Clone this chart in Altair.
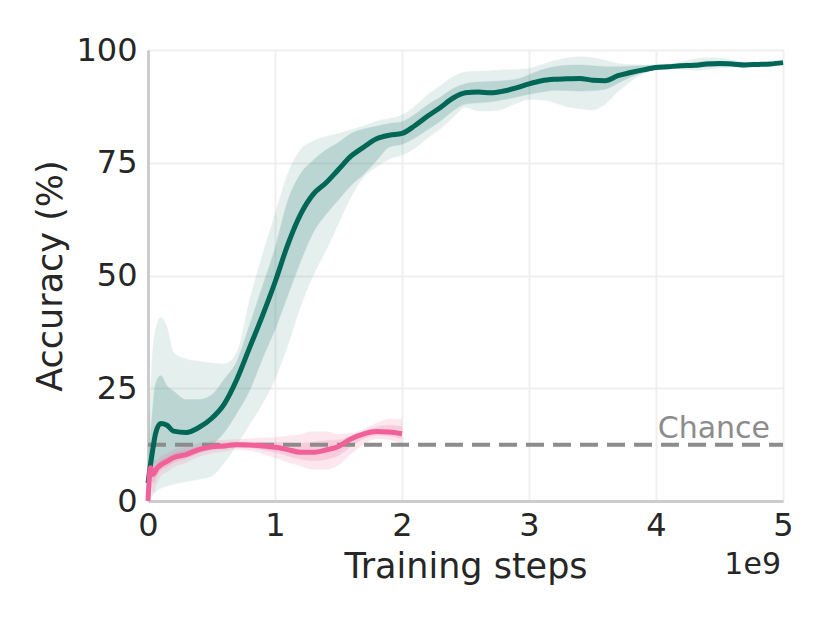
import altair as alt
import pandas as pd

# ---------------- data (x in units of 1e9 training steps, y in %) ----------------
green_x = [0, 0.03, 0.06, 0.1, 0.15, 0.2, 0.3, 0.4, 0.5, 0.6, 0.7, 0.8, 0.9, 1.0,
           1.1, 1.2, 1.3, 1.4, 1.5, 1.6, 1.7, 1.8, 1.9, 2.0, 2.1, 2.2, 2.3, 2.4, 2.5,
           2.6, 2.7, 2.8, 2.9, 3.0, 3.1, 3.2, 3.3, 3.4, 3.5, 3.6, 3.7, 3.8, 3.9, 4.0,
           4.1, 4.2, 4.3, 4.4, 4.5, 4.6, 4.7, 4.8, 4.9, 5.0]
green_mean = [4, 10, 15, 17.2, 16.8, 15.5, 15.2, 16.3, 18.3, 21.5, 27, 34, 41, 48.5,
              56.8, 63.5, 68, 70.5, 73.5, 76.5, 78.5, 80.3, 81.1, 81.5, 83.2, 85.3, 87.2, 89.3, 90.5,
              90.7, 90.5, 90.9, 91.6, 92.5, 93.2, 93.5, 93.6, 93.7, 93.3, 93.2, 94.3, 95.0, 95.6, 96.1,
              96.3, 96.5, 96.6, 96.9, 97.0, 96.9, 96.7, 96.8, 96.9, 97.2]
green_in_hi = [6, 18, 26, 27.8, 25.5, 24.4, 22.5, 22.5, 23.5, 27, 31, 39, 47.5, 56,
               66.5, 72.5, 75.5, 77.8, 79.5, 81.5, 82.5, 83.1, 83.7, 84.1, 85.7, 87.8, 89.5, 91.4, 92.5,
               92.9, 93, 93.2, 93.5, 94.5, 95.6, 96.3, 96.6, 96.7, 96.5, 96.3, 96.3, 96.4, 96.5, 96.7,
               96.8, 97.0, 97.2, 97.5, 97.5, 97.3, 97.0, 97.1, 97.2, 97.4]
green_in_lo = [2, 5, 7, 7.5, 8.5, 9.5, 10.8, 11.5, 12.5, 15.2, 19.5, 24.5, 31.5, 38,
               45.5, 53, 59.5, 63.5, 66.8, 70, 72.5, 75.5, 78.5, 79.1, 80.5, 82.3, 84.2, 86.5, 88.0,
               88.3, 88.5, 89.0, 89.6, 90.2, 90.7, 91.1, 91.0, 90.9, 91.0, 91.3, 92.6, 94.0, 95.0, 95.7,
               96.0, 96.1, 96.1, 96.3, 96.4, 96.5, 96.4, 96.5, 96.6, 97.0]
green_out_hi = [8, 30, 38, 40.7, 38.5, 33, 31.5, 31, 30.6, 30.4, 33, 44.5, 54.5, 63.5,
                72.5, 77.8, 79.8, 80.8, 81.5, 82.3, 83.2, 84.2, 84.8, 85.6, 87.5, 90, 92, 94, 95.1,
                95.3, 95.4, 95.6, 95.7, 95.9, 96.8, 97.6, 98.2, 98.5, 98.3, 97.7, 97.0, 96.8, 96.7, 96.7,
                96.9, 97.4, 98.0, 98.3, 98.2, 97.8, 97.3, 97.2, 97.3, 97.5]
green_out_lo = [0, 1, 2, 2.8, 3.3, 3.7, 4.3, 4.8, 5.5, 8.5, 12.5, 17, 21.5, 27,
                34.5, 43, 50, 55.5, 61.5, 67.5, 71.9, 74.1, 75.8, 76.7, 78.2, 80.5, 82.5, 85, 87.3,
                86.5, 86.5, 87, 88.2, 89, 88.9, 88.3, 87.4, 87, 86.7, 88, 90.8, 93, 94.8, 95.7,
                95.9, 95.7, 95.5, 95.7, 96.0, 96.2, 96.3, 96.4, 96.5, 96.8]

pink_x = [0, 0.02, 0.04, 0.07, 0.1, 0.15, 0.2, 0.3, 0.4, 0.5, 0.6, 0.7, 0.8, 0.9, 1.0,
          1.1, 1.2, 1.3, 1.4, 1.5, 1.6, 1.7, 1.8, 1.9, 2.0]
pink_mean = [0, 7.4, 5.9, 7.2, 8, 8.8, 9.6, 10.3, 11.4, 12, 12.2, 12.5, 12.4, 12.2, 11.9,
             11.4, 10.8, 10.8, 11.3, 12.1, 13.8, 14.9, 15.4, 15.3, 14.9]
pink_in_hi = [0.5, 8.7, 7.5, 8.1, 9, 9.7, 10.5, 11.2, 12.1, 12.7, 12.9, 13.1, 13.1, 13.1, 13,
              12.9, 12.8, 13.1, 13.4, 13.5, 14.4, 15.4, 16.4, 16.8, 16.5]
pink_in_lo = [0, 5.2, 4, 5.6, 6.8, 7.6, 8.5, 9.4, 10.6, 11.3, 11.6, 12, 11.8, 11.3, 10.8,
              10, 9.3, 8.9, 9.2, 10.1, 12.1, 13.8, 14.6, 14.4, 13.8]
pink_out_hi = [1, 10, 9, 9, 10, 10.5, 11.3, 12, 12.8, 13.3, 13.5, 13.7, 13.8, 14, 14.1,
               14.4, 14.8, 15.4, 15.4, 14.8, 15, 15.9, 17.3, 18.2, 18.1]
pink_out_lo = [0, 3, 2, 4, 5.5, 6.5, 7.5, 8.5, 9.8, 10.6, 11, 11.4, 11.2, 10.5, 9.6,
               8.6, 7.8, 7, 7, 8, 10.5, 12.6, 13.8, 13.6, 12.6]

chance_x = [0, 5]
chance_y = [12.5, 12.5]

x_ticks = [0, 1, 2, 3, 4, 5]
y_ticks = [0, 25, 50, 75, 100]

GREEN = "#006656"
GREEN_BAND = "#3d8c82"
PINK = "#f2609a"
PINK_BAND = "#f06496"
GRAY = "#8c8c8c"
FONT = "DejaVu Sans"

green = pd.DataFrame({"x": green_x, "mean": green_mean, "in_hi": green_in_hi, "in_lo": green_in_lo,
                      "out_hi": green_out_hi, "out_lo": green_out_lo})
pink = pd.DataFrame({"x": pink_x, "mean": pink_mean, "in_hi": pink_in_hi, "in_lo": pink_in_lo,
                     "out_hi": pink_out_hi, "out_lo": pink_out_lo})
chance = pd.DataFrame({"x": chance_x, "y": chance_y})

xscale = alt.Scale(domain=[0, 5], nice=False, zero=False)
yscale = alt.Scale(domain=[0, 100], nice=False)

xaxis = alt.Axis(values=x_ticks, format="d", title="Training steps", grid=True,
                 gridColor="#efefef", gridWidth=2, ticks=False, tickSize=0, labelFlush=False,
                 domainColor="#cccccc", domainWidth=3, labelFont=FONT, labelFontSize=32,
                 labelColor="#262626", labelPadding=9, titleFont=FONT, titleFontSize=35,
                 titleFontWeight="normal", titleColor="#262626", titlePadding=8)
yaxis = alt.Axis(values=y_ticks, format="d", title="Accuracy (%)", grid=True,
                 gridColor="#efefef", gridWidth=2, ticks=False, tickSize=0,
                 domainColor="#cccccc", domainWidth=3, labelFont=FONT, labelFontSize=32,
                 labelColor="#262626", labelPadding=11, titleFont=FONT, titleFontSize=35,
                 titleFontWeight="normal", titleColor="#262626", titlePadding=7)

base_g = alt.Chart(green)
base_p = alt.Chart(pink)

g_out = base_g.mark_area(color=GREEN_BAND, opacity=0.13, stroke=GREEN_BAND, strokeOpacity=0.35,
                         strokeWidth=1, interpolate="monotone").encode(
    x=alt.X("x:Q", scale=xscale, axis=xaxis), y=alt.Y("out_lo:Q", scale=yscale, axis=yaxis), y2="out_hi:Q")
g_in = base_g.mark_area(color=GREEN_BAND, opacity=0.25, stroke=GREEN_BAND, strokeOpacity=0.4,
                        strokeWidth=1, interpolate="monotone").encode(
    x="x:Q", y="in_lo:Q", y2="in_hi:Q")
p_out = base_p.mark_area(color=PINK_BAND, opacity=0.15, stroke=PINK_BAND, strokeOpacity=0.3,
                         strokeWidth=1, interpolate="monotone").encode(
    x="x:Q", y="out_lo:Q", y2="out_hi:Q")
p_in = base_p.mark_area(color=PINK_BAND, opacity=0.2, stroke=PINK_BAND, strokeOpacity=0.3,
                        strokeWidth=1, interpolate="monotone").encode(
    x="x:Q", y="in_lo:Q", y2="in_hi:Q")
chance_line = alt.Chart(chance).mark_line(color=GRAY, strokeWidth=4, strokeDash=[18, 9]).encode(
    x="x:Q", y="y:Q")
g_line = base_g.mark_line(color=GREEN, strokeWidth=5, interpolate="monotone").encode(x="x:Q", y="mean:Q")
p_line = base_p.mark_line(color=PINK, strokeWidth=5, interpolate="monotone").encode(x="x:Q", y="mean:Q")

chance_lbl = alt.Chart(pd.DataFrame({"x": [5], "y": [12.5], "t": ["Chance"]})).mark_text(
    align="right", baseline="alphabetic", dx=-13, dy=-7, font=FONT, fontSize=30, color=GRAY
).encode(x="x:Q", y="y:Q", text="t:N")
offset_lbl = alt.Chart(pd.DataFrame({"x": [5], "y": [0], "t": ["1e9"]})).mark_text(
    align="right", baseline="alphabetic", dx=-2, dy=73, font=FONT, fontSize=30, color="#262626"
).encode(x="x:Q", y="y:Q", text="t:N")

chart = alt.layer(g_out, g_in, p_out, p_in, chance_line, g_line, p_line, chance_lbl, offset_lbl).properties(
    width=635, height=451,
    autosize=alt.AutoSizeParams(type="none"),
    padding={"left": 140, "top": 42, "right": 30, "bottom": 115},
).configure_view(stroke=None).configure(background="white")

chart.save("out.html", embed_options={"renderer": "svg", "actions": False})
